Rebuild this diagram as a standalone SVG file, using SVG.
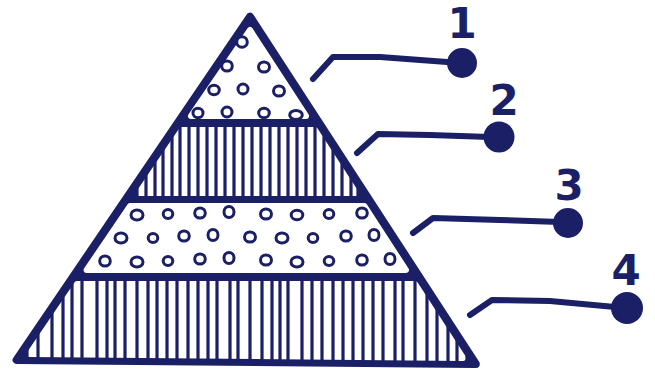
<svg xmlns="http://www.w3.org/2000/svg" width="655" height="373" viewBox="0 0 655 373">
<style>
.ink{fill:#1b1f66;stroke:#1b1f66;stroke-width:8;stroke-linejoin:round}
.band{fill:#fff;stroke:#fff;stroke-width:6;stroke-linejoin:round}
.stripe{stroke:#1b1f66;stroke-width:3.2}
.dot{fill:#fff;stroke:#1b1f66;stroke-width:3}
.conn{fill:none;stroke:#1b1f66;stroke-width:6;stroke-linecap:round;stroke-linejoin:round}
.knob{fill:#1b1f66}
.num{font-family:"DejaVu Sans",sans-serif;font-weight:bold;font-size:42px;fill:#1b1f66;text-anchor:middle}
</style>
<defs>
<clipPath id="pyr"><polygon points="250,16.7 16.6,360 475.8,364"/></clipPath>
</defs>
<g id="pyramid">
<polygon class="ink" points="250,16.7 16.6,360 475.8,364"/>
</g>
<g id="level1">
<polygon class="band" points="250,30 191,116 306,116"/>
<ellipse class="dot" cx="242" cy="42" rx="5.3" ry="5.3"/>
<ellipse class="dot" cx="227" cy="66" rx="5.3" ry="5"/>
<ellipse class="dot" cx="264" cy="67" rx="5.5" ry="5"/>
<ellipse class="dot" cx="214" cy="90" rx="5.3" ry="4.8"/>
<ellipse class="dot" cx="243" cy="89" rx="5" ry="5"/>
<ellipse class="dot" cx="279" cy="91" rx="5.5" ry="5"/>
<ellipse class="dot" cx="198" cy="113" rx="5" ry="4.8"/>
<ellipse class="dot" cx="227" cy="112" rx="5" ry="5"/>
<ellipse class="dot" cx="264" cy="113" rx="5.3" ry="4.8"/>
<ellipse class="dot" cx="296" cy="115" rx="6.3" ry="4.5"/>
</g>
<g id="level2">
<polygon class="band" points="181.8,130 314.9,130 355.9,193 139,193"/>
<g clip-path="url(#pyr)">
<path class="stripe" d="M137,124V198M146,124V198M155,124V198M163,124V198M172,124V198M180,124V198M189,124V198M198,124V198M207,124V198M216,124V198M225,124V198M234,124V198M243,124V198M252,124V198M261,124V198M270,124V198M279,124V198M288,124V198M297,124V198M306,124V198M315,124V198M324,124V198M333,124V198M342,124V198M351,124V198M358,124V198"/>
</g>
</g>
<g id="level3">
<polygon class="band" points="130.1,206 364.3,206 405.9,270 86.6,270"/>
<ellipse class="dot" cx="137" cy="215" rx="6" ry="5"/>
<ellipse class="dot" cx="168" cy="214" rx="4.8" ry="4.5"/>
<ellipse class="dot" cx="200" cy="213" rx="5.3" ry="5"/>
<ellipse class="dot" cx="229" cy="212" rx="5" ry="5.5"/>
<ellipse class="dot" cx="266" cy="214" rx="5.5" ry="5"/>
<ellipse class="dot" cx="297" cy="215" rx="5.8" ry="4.8"/>
<ellipse class="dot" cx="329" cy="214" rx="4.8" ry="4.5"/>
<ellipse class="dot" cx="362" cy="213" rx="5.3" ry="5"/>
<ellipse class="dot" cx="121" cy="238" rx="6" ry="5"/>
<ellipse class="dot" cx="153" cy="238" rx="4.8" ry="4.5"/>
<ellipse class="dot" cx="184" cy="236" rx="5.3" ry="5"/>
<ellipse class="dot" cx="213" cy="235" rx="5" ry="5.5"/>
<ellipse class="dot" cx="250" cy="237" rx="5.5" ry="5"/>
<ellipse class="dot" cx="282" cy="238" rx="6" ry="5"/>
<ellipse class="dot" cx="313" cy="238" rx="4.8" ry="4.5"/>
<ellipse class="dot" cx="346" cy="236" rx="5.3" ry="5"/>
<ellipse class="dot" cx="374" cy="235" rx="5" ry="5.5"/>
<ellipse class="dot" cx="105" cy="261" rx="5.3" ry="5"/>
<ellipse class="dot" cx="137" cy="262" rx="6" ry="5"/>
<ellipse class="dot" cx="168" cy="261" rx="4.8" ry="4.5"/>
<ellipse class="dot" cx="200" cy="259" rx="5.3" ry="5"/>
<ellipse class="dot" cx="229" cy="258" rx="5" ry="5.5"/>
<ellipse class="dot" cx="266" cy="260" rx="5.5" ry="5"/>
<ellipse class="dot" cx="297" cy="262" rx="6" ry="5"/>
<ellipse class="dot" cx="329" cy="261" rx="4.8" ry="4.5"/>
<ellipse class="dot" cx="362" cy="260" rx="5.3" ry="5"/>
<ellipse class="dot" cx="390" cy="259" rx="5" ry="5.5"/>
</g>
<g id="level4">
<polygon class="band" points="77.1,284 415,284 463.1,358 29.5,354"/>
<g clip-path="url(#pyr)">
<path class="stripe" d="M27,277V366M38,277V366M52,277V366M63,277V366M72,277V366M82,277V366M97,277V366M107,277V366M115,277V366M125,277V366M137,277V366M148,277V366M157,277V366M167,277V366M177,277V366M188,277V366M198,277V366M208,277V366M217,277V366M230,277V366M238,277V366M250,277V366M262,277V366M272,277V366M280,277V366M288,277V366M302,277V366M312,277V366M322,277V366M333,277V366M343,277V366M353,277V366M363,277V366M373,277V366M383,277V366M395,277V366M403,277V366M415,277V366M427,277V366M437,277V366M448,277V366M457,277V366M467,277V366"/>
</g>
</g>
<g id="connectors">
<path class="conn" d="M313,79 L333,57 L380,57 L447,62"/>
<path class="conn" d="M357,153 L378,134 L430,135 L490,137"/>
<path class="conn" d="M413,233 L433,218 L500,220 L560,222"/>
<path class="conn" d="M470,315 L492,300 L550,301 L615,307"/>
</g>
<g id="label1"><circle class="knob" cx="462" cy="63" r="15"/><text class="num" x="462" y="38">1</text></g>
<g id="label2"><circle class="knob" cx="499" cy="137" r="15.5"/><text class="num" x="504" y="115">2</text></g>
<g id="label3"><circle class="knob" cx="568" cy="223" r="15"/><text class="num" x="569" y="200">3</text></g>
<g id="label4"><circle class="knob" cx="627" cy="308" r="16"/><text class="num" x="626" y="285">4</text></g>
</svg>
